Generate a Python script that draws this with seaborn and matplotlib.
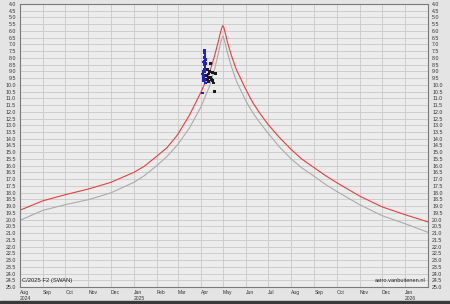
import matplotlib
matplotlib.use("Agg")
import matplotlib.pyplot as plt
import seaborn as sns
import pandas as pd
import numpy as np

# ---- data ----
red_dates = ["2024-08-01", "2024-09-01", "2024-10-01", "2024-11-01", "2024-12-01",
             "2025-01-01", "2025-01-15", "2025-02-01", "2025-02-15", "2025-03-01",
             "2025-03-17", "2025-04-01", "2025-04-13", "2025-04-20", "2025-04-25",
             "2025-04-28", "2025-04-30", "2025-05-01", "2025-05-02", "2025-05-04",
             "2025-05-07", "2025-05-12", "2025-05-19", "2025-06-01", "2025-06-10",
             "2025-06-19", "2025-07-01", "2025-07-16", "2025-08-01", "2025-08-15",
             "2025-09-01", "2025-09-15", "2025-10-01", "2025-11-01", "2025-12-01",
             "2026-01-01", "2026-02-01"]
red_mag = [19.3, 18.6, 18.15, 17.73, 17.24,
           16.5, 16.05, 15.3, 14.65, 13.7,
           12.25, 10.6, 9.1, 7.8, 6.75,
           6.05, 5.7, 5.6, 5.7, 6.1,
           6.8, 7.75, 8.85, 10.35, 11.3,
           12.05, 12.95, 13.9, 14.8, 15.5,
           16.15, 16.7, 17.25, 18.25, 19.05,
           19.63, 20.17]

gray_dates = ["2024-08-01", "2024-09-01", "2024-10-01", "2024-11-01", "2024-12-01",
              "2025-01-01", "2025-01-15", "2025-02-01", "2025-02-15", "2025-03-01",
              "2025-03-17", "2025-04-01", "2025-04-13", "2025-04-20", "2025-04-25",
              "2025-04-28", "2025-04-30", "2025-05-01", "2025-05-02", "2025-05-04",
              "2025-05-07", "2025-05-12", "2025-05-19", "2025-06-01", "2025-06-10",
              "2025-06-19", "2025-07-01", "2025-07-16", "2025-08-01", "2025-08-15",
              "2025-09-01", "2025-09-15", "2025-10-01", "2025-11-01", "2025-12-01",
              "2026-01-01", "2026-02-01"]
gray_mag = [20.05, 19.31, 18.89, 18.52, 18.02,
            17.24, 16.75, 16.0, 15.3, 14.45,
            13.2, 11.7, 10.1, 8.8, 7.65,
            6.9, 6.5, 6.37, 6.5, 6.9,
            7.6, 8.55, 9.7, 11.2, 12.05,
            12.75, 13.6, 14.6, 15.5, 16.15,
            16.79, 17.35, 17.9, 18.89, 19.7,
            20.3, 20.94]

blue_dates = ["2025-04-06 07:00", "2025-04-06 19:00", "2025-04-05 22:00", "2025-04-07 05:00",
              "2025-04-06 07:00", "2025-04-07 17:00", "2025-04-06 19:00", "2025-04-05 22:00",
              "2025-04-05 00:00", "2025-04-04 00:00", "2025-04-05 10:00", "2025-04-04 12:00",
              "2025-04-06 07:00", "2025-04-07 17:00", "2025-04-03 05:00", "2025-04-06 12:00",
              "2025-04-05 12:00", "2025-04-04 18:00", "2025-04-06 00:00", "2025-04-05 06:00"]
blue_mag = [7.6, 7.78, 7.95, 8.1,
            8.27, 8.44, 8.64, 8.84,
            9.01, 9.19, 9.33, 9.5,
            9.63, 9.87, 10.61, 7.45,
            8.5, 9.7, 9.05, 8.3]

black_dates = ["2025-04-10 19:00", "2025-04-13 00:00", "2025-04-12 02:00", "2025-04-09 10:00",
               "2025-04-14 00:00", "2025-04-10 19:00", "2025-04-15 07:00", "2025-04-12 02:00",
               "2025-04-17 12:00", "2025-04-18 10:00", "2025-04-16 14:00", "2025-04-19 17:00",
               "2025-04-20 17:00", "2025-04-14 00:00", "2025-04-11 12:00"]
black_mag = [8.84, 9.01, 9.19, 9.33,
             9.43, 9.58, 9.58, 9.76,
             9.68, 9.87, 9.09, 10.5,
             9.13, 8.4, 9.45]

month_ticks = pd.date_range("2024-08-01", "2026-01-01", freq="MS")
year_marked = {pd.Timestamp("2024-08-01"), pd.Timestamp("2025-01-01"), pd.Timestamp("2026-01-01")}
month_labels = [d.strftime("%b") + ("\n" + d.strftime("%Y") if d in year_marked else "")
                for d in month_ticks]
mag_ticks = np.arange(4.0, 25.01, 0.5)

# ---- frames ----
curves = pd.concat([
    pd.DataFrame({"date": pd.to_datetime(gray_dates), "mag": gray_mag, "series": "alt"}),
    pd.DataFrame({"date": pd.to_datetime(red_dates), "mag": red_mag, "series": "pred"}),
])
obs = pd.concat([
    pd.DataFrame({"date": pd.to_datetime(blue_dates), "mag": blue_mag, "src": "blue"}),
    pd.DataFrame({"date": pd.to_datetime(black_dates), "mag": black_mag, "src": "black"}),
])

sns.set_style("white")
plt.rcParams["font.family"] = ["Liberation Sans", "DejaVu Sans"]

fig = plt.figure(figsize=(4.5, 3.04), dpi=100, facecolor="#e4e4e4")
ax = fig.add_axes([20 / 450, 1 - 287 / 304, 408 / 450, 283 / 304])
ax.set_facecolor("#ececec")

sns.lineplot(data=curves, x="date", y="mag", hue="series",
             palette={"pred": "#e5403f", "alt": "#ababab"}, hue_order=["alt", "pred"],
             legend=False, ax=ax, linewidth=0.8, sort=False)

sns.scatterplot(data=obs, x="date", y="mag", hue="src",
                palette={"blue": "#2020c8", "black": "#1a1a1a"}, legend=False,
                ax=ax, s=4, marker="s", linewidth=0, zorder=5)

ax.set_xlim(pd.Timestamp("2024-08-01"), pd.Timestamp("2026-02-01"))
ax.set_ylim(25.0, 4.0)
ax.set_yticks(mag_ticks)
ax.set_yticklabels([f"{v:.1f}" for v in mag_ticks])
ax.set_xticks(month_ticks)
ax.set_xticklabels(month_labels, ha="left", va="top", linespacing=1.25)
ax.tick_params(axis="x", labelsize=3.6, length=0, pad=2, colors="#333333")
ax.tick_params(axis="y", labelsize=3.8, length=0, pad=3, colors="#333333",
               left=True, right=True, labelleft=True, labelright=True)
ax.set_xlabel("")
ax.set_ylabel("")
ax.grid(True, color="#c9c9c9", linewidth=0.6)
ax.set_axisbelow(True)
for s in ax.spines.values():
    s.set_color("#7a7a7a")
    s.set_linewidth(0.8)

ax.text(0.006, 0.014, "C/2025 F2 (SWAN)", transform=ax.transAxes, fontsize=4.2,
        ha="left", va="bottom", color="#222222")
ax.text(0.994, 0.014, "astro.vanbuitenen.nl", transform=ax.transAxes, fontsize=4.1,
        ha="right", va="bottom", color="#222222")

fig.patches.append(plt.Rectangle((0, 0), 1, 3 / 304, transform=fig.transFigure,
                                 color="#3a3a3a", zorder=10))

fig.savefig("out.png", dpi=100, facecolor=fig.get_facecolor())
